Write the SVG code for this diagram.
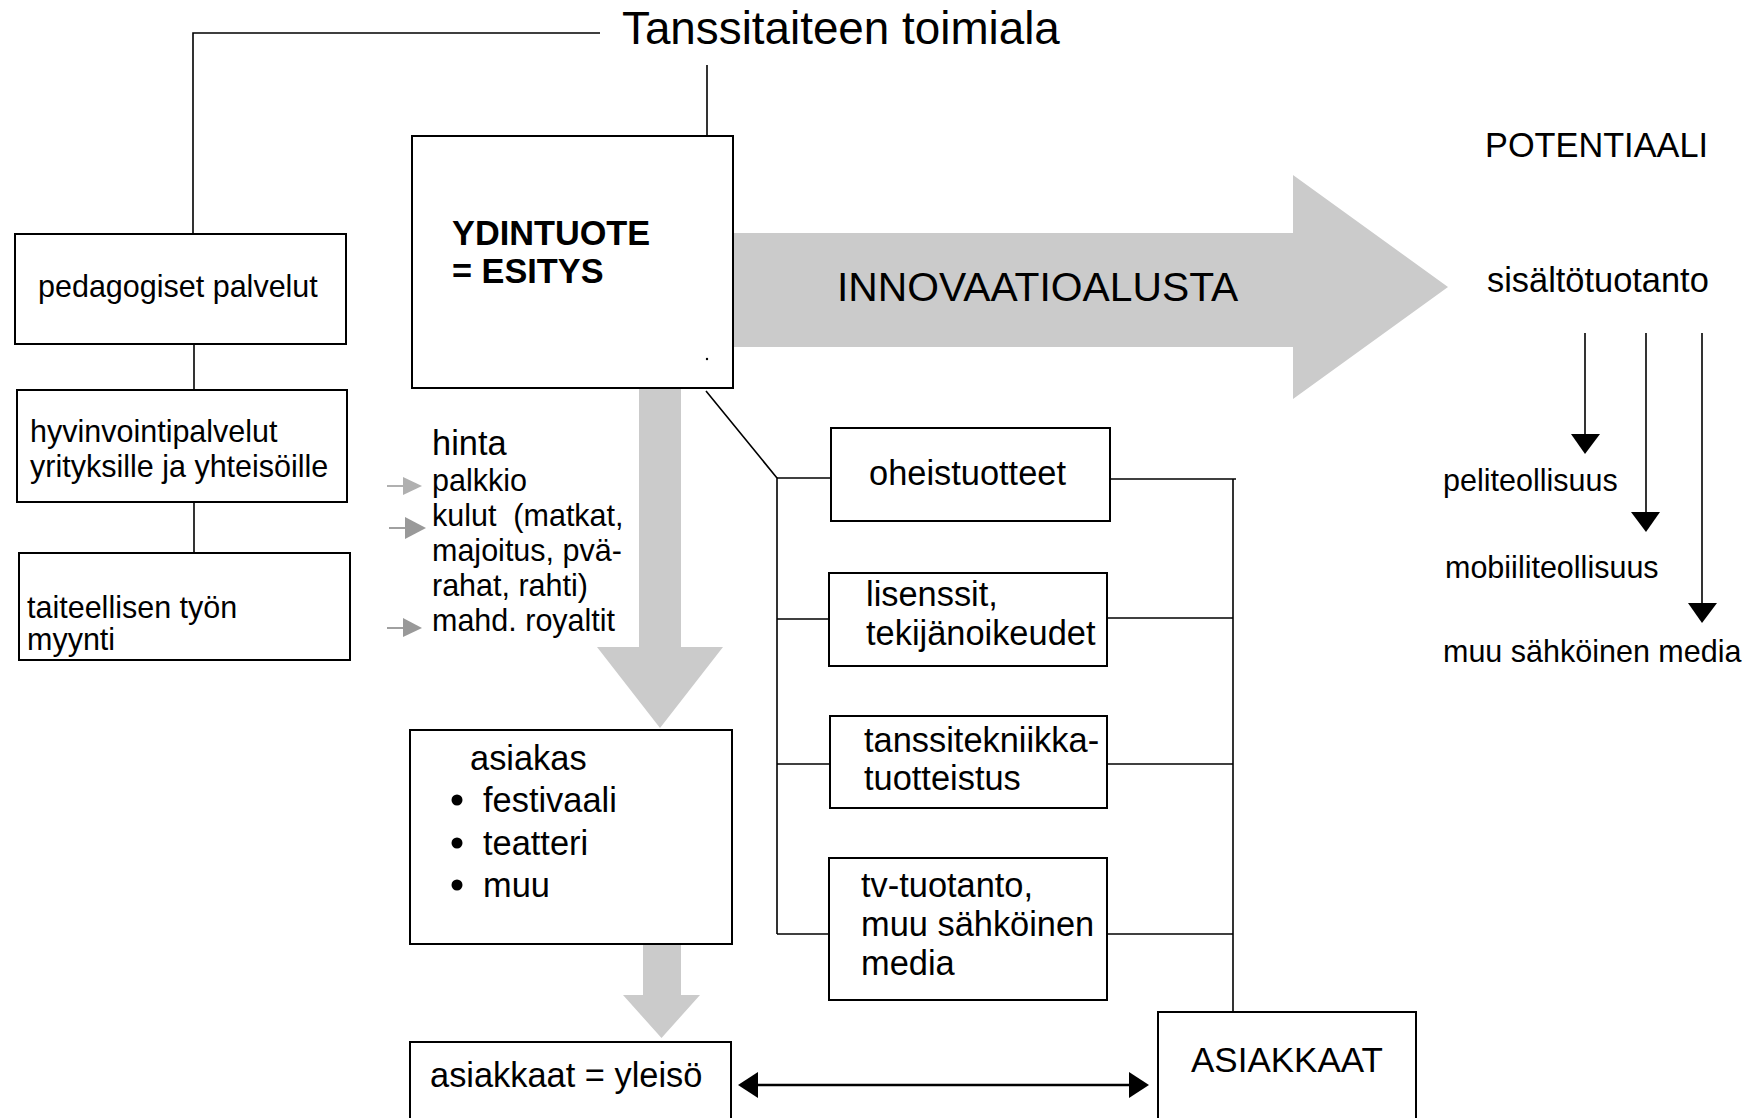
<svg xmlns="http://www.w3.org/2000/svg" width="1757" height="1118" viewBox="0 0 1757 1118">
<style>
text{font-family:"Liberation Sans",Arial,sans-serif;fill:#000;white-space:pre}
.box{fill:#fff;stroke:#000;stroke-width:2}
.ln{fill:none;stroke:#000;stroke-width:1.6}
.big{fill:#cbcbcb}
.f30{font-size:30.5px}
.f34{font-size:34.4px}
</style>
<rect width="1757" height="1118" fill="#fff"/>
<g id="flows">
<polygon class="big" points="732,233 1293,233 1293,175 1448,287 1293,399 1293,347 732,347"/>
<polygon class="big" points="639,386 681,386 681,647 723,647 660,728 597,647 639,647"/>
<polygon class="big" points="643,944 681,944 681,995 700,995 661.5,1038 623,995 643,995"/>
</g>
<g id="connectors">
<polyline class="ln" points="600,33 193,33 193,234"/>
<line class="ln" x1="707" y1="65" x2="707" y2="136"/>
<line class="ln" x1="194" y1="344" x2="194" y2="390"/>
<line class="ln" x1="194" y1="502" x2="194" y2="553"/>
<polyline class="ln" points="706,391 777,478 777,934"/>
<line class="ln" x1="777" y1="478" x2="831" y2="478"/>
<line class="ln" x1="777" y1="619" x2="829" y2="619"/>
<line class="ln" x1="777" y1="764" x2="829" y2="764"/>
<line class="ln" x1="777" y1="934" x2="829" y2="934"/>
<line class="ln" x1="1106" y1="479" x2="1236" y2="479"/>
<line class="ln" x1="1233" y1="479" x2="1233" y2="1012"/>
<line class="ln" x1="1107" y1="618" x2="1233" y2="618"/>
<line class="ln" x1="1107" y1="764" x2="1233" y2="764"/>
<line class="ln" x1="1107" y1="934" x2="1233" y2="934"/>
<line x1="754" y1="1085" x2="1133" y2="1085" stroke="#000" stroke-width="2.5"/>
<polygon points="738,1085 758,1072 758,1098" fill="#000"/>
<polygon points="1149,1085 1129,1072 1129,1098" fill="#000"/>
<line class="ln" x1="1585" y1="333" x2="1585" y2="436" stroke-width="2"/>
<polygon points="1571,434 1600,434 1585,454" fill="#000"/>
<line class="ln" x1="1646" y1="333" x2="1646" y2="514" stroke-width="2"/>
<polygon points="1631,512 1660,512 1646,532" fill="#000"/>
<line class="ln" x1="1702" y1="333" x2="1702" y2="605" stroke-width="2"/>
<polygon points="1688,603 1717,603 1702,623" fill="#000"/>
<line x1="387" y1="486" x2="405" y2="486" stroke="#b0b0b0" stroke-width="2"/>
<polygon points="403,477 422,486 403,495" fill="#b0b0b0"/>
<line x1="389" y1="528" x2="407" y2="528" stroke="#a0a0a0" stroke-width="2"/>
<polygon points="405,517 426,528 405,539" fill="#999"/>
<line x1="387" y1="628" x2="405" y2="628" stroke="#a0a0a0" stroke-width="2"/>
<polygon points="403,618 422,628 403,637" fill="#999"/>
</g>
<g id="title"><text x="622" y="44" style="font-size:45.8px">Tanssitaiteen toimiala</text></g>
<g id="pedagogiset"><rect class="box" x="15" y="234" width="331" height="110"/><text class="f30" x="38" y="297">pedagogiset palvelut</text></g>
<g id="hyvinvointi"><rect class="box" x="17" y="390" width="330" height="112"/><text class="f30" x="30" y="442">hyvinvointipalvelut</text><text class="f30" x="30" y="477">yrityksille ja yhteisöille</text></g>
<g id="taiteellisen"><rect class="box" x="19" y="553" width="331" height="107"/><text class="f30" x="27" y="618">taiteellisen työn</text><text class="f30" x="27" y="650">myynti</text></g>
<g id="ydintuote"><rect class="box" x="412" y="136" width="321" height="252"/><text x="452" y="245" style="font-size:34.3px;font-weight:bold">YDINTUOTE</text><text x="452" y="283" style="font-size:34.3px;font-weight:bold">= ESITYS</text><circle cx="707" cy="359" r="1.2" fill="#000"/></g>
<g id="innovaatio"><text x="837" y="301" style="font-size:40.8px">INNOVAATIOALUSTA</text></g>
<g id="potentiaali"><text x="1485" y="157" style="font-size:34.3px">POTENTIAALI</text></g>
<g id="sisalto"><text class="f34" x="1487" y="292">sisältötuotanto</text></g>
<g id="peli"><text class="f30" x="1443" y="491">peliteollisuus</text></g>
<g id="mobiili"><text class="f30" x="1445" y="578">mobiiliteollisuus</text></g>
<g id="muumedia"><text x="1443" y="662" style="font-size:30.5px">muu sähköinen media</text></g>
<g id="hinta">
<text class="f34" x="432" y="455">hinta</text>
<text class="f30" x="432" y="491">palkkio</text>
<text class="f30" x="432" y="526">kulut  (matkat,</text>
<text class="f30" x="432" y="561">majoitus, pvä-</text>
<text class="f30" x="432" y="596">rahat, rahti)</text>
<text class="f30" x="432" y="631">mahd. royaltit</text>
</g>
<g id="asiakas"><rect class="box" x="410" y="730" width="322" height="214"/>
<text class="f34" x="470" y="770">asiakas</text>
<circle cx="457" cy="800" r="5.5"/><text class="f34" x="483" y="812">festivaali</text>
<circle cx="457" cy="843" r="5.5"/><text class="f34" x="483" y="855">teatteri</text>
<circle cx="457" cy="885" r="5.5"/><text class="f34" x="483" y="897">muu</text>
</g>
<g id="yleiso"><rect class="box" x="410" y="1042" width="321" height="100"/><text class="f34" x="430" y="1087">asiakkaat = yleisö</text></g>
<g id="asiakkaat"><rect class="box" x="1158" y="1012" width="258" height="130"/><text x="1191" y="1072" style="font-size:35px">ASIAKKAAT</text></g>
<g id="oheistuotteet"><rect class="box" x="831" y="428" width="279" height="93"/><text class="f34" x="869" y="485">oheistuotteet</text></g>
<g id="lisenssit"><rect class="box" x="829" y="573" width="278" height="93"/><text class="f34" x="866" y="606">lisenssit,</text><text class="f34" x="866" y="645">tekijänoikeudet</text></g>
<g id="tanssitekniikka"><rect class="box" x="830" y="716" width="277" height="92"/><text class="f34" x="864" y="752">tanssitekniikka-</text><text class="f34" x="864" y="790">tuotteistus</text></g>
<g id="tvtuotanto"><rect class="box" x="829" y="858" width="278" height="142"/><text class="f34" x="861" y="897">tv-tuotanto,</text><text class="f34" x="861" y="936">muu sähköinen</text><text class="f34" x="861" y="975">media</text></g>
</svg>
